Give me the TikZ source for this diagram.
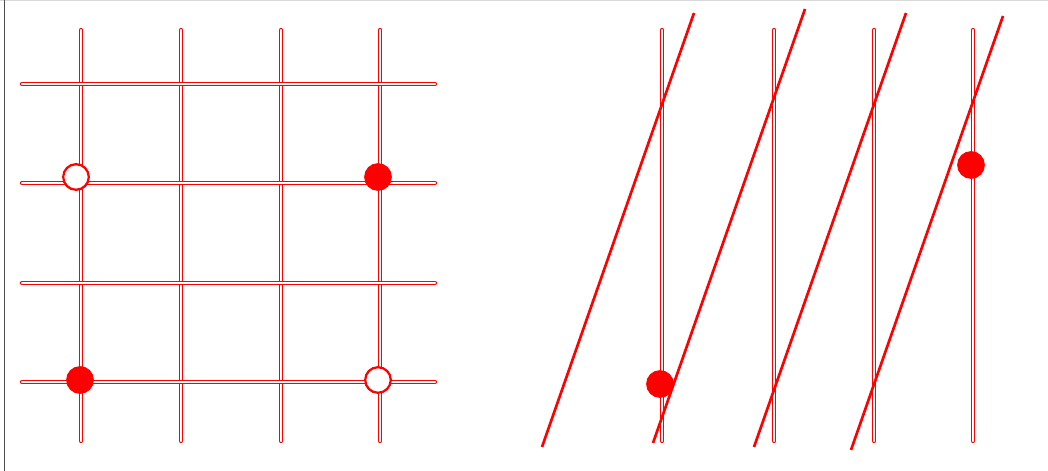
\documentclass[tikz,border=0pt]{standalone}
\usepackage{tikz}
\tikzstyle{wire}=[draw=red,line width=0.7pt,double=white,double distance=1.7pt,line cap=round]
\tikzstyle{slant}=[draw=red,line width=1.9pt]
\tikzstyle{dot}=[circle,fill=red,draw=red,line width=1.5pt,minimum size=0.64cm,inner sep=0pt]
\tikzstyle{hole}=[circle,fill=white,draw=red,line width=1.6pt,minimum size=0.64cm,inner sep=0pt]

\begin{document}
\begin{tikzpicture}[x=0.025cm,y=-0.025cm]
\useasboundingbox (0,0) rectangle (1048,471);
% frame
\draw[gray!30,line width=0.6pt] (0,0.5) -- (1048,0.5);
\draw[black!70,line width=0.8pt] (4.5,0) -- (4.5,471);
% left grid
\foreach \x in {81,181,281,380}
  \draw[wire] (\x,30) -- (\x,441);
\foreach \y in {84,183,283,382}
  \draw[wire] (22,\y) -- (435,\y);
\node (h1) [hole] at (76,177) {};
\node (d1) [dot] at (378,177) {};
\node (d2) [dot] at (80,380) {};
\node (h2) [hole] at (378,380) {};
% right part
\foreach \x in {662,774,874,973}
  \draw[wire] (\x,30) -- (\x,441);
\foreach \x/\y in {542/447,653/443,754/447,851/450}
  \draw[slant] (\x,\y) -- ++(152,-434);
\node (d3) [dot] at (660,384) {};
\node (d4) [dot] at (971,165) {};
\end{tikzpicture}
\end{document}
